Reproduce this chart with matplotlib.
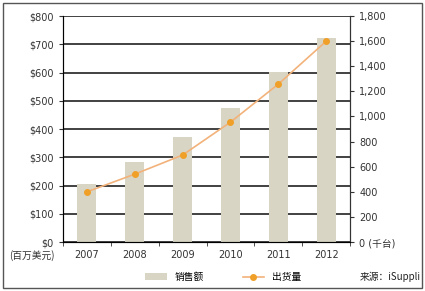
import numpy as np
import matplotlib.pyplot as plt
from matplotlib.patches import Rectangle
from matplotlib.ticker import FuncFormatter, MultipleLocator

plt.rcParams['font.family'] = ['DejaVu Sans', 'Noto Sans CJK SC']

years = ['2007', '2008', '2009', '2010', '2011', '2012']
sales = [205, 283, 372, 474, 602, 722]          # 百万美元
shipments = [400, 541, 693, 955, 1258, 1600]    # 千台

fig = plt.figure(figsize=(4.25, 2.91), dpi=100)
ax = fig.add_axes([0.148, 0.168, 0.676, 0.777])
x = np.arange(len(years))

# 网格线
for v in range(0, 801, 100):
    ax.axhline(v, color='#333333', lw=1.3, zorder=1)

bars = ax.bar(x, sales, width=0.4, color='#d8d5c5', zorder=2, label='销售额')
ax.set_xlim(-0.5, 5.5)
ax.set_ylim(0, 800)
ax.yaxis.set_major_locator(MultipleLocator(100))
ax.yaxis.set_major_formatter(FuncFormatter(lambda v, p: '$%d' % v))
ax.set_xticks(x)
ax.set_xticklabels(years)
ax.set_xticks(np.arange(-0.5, 6, 1), minor=True)
ax.tick_params(axis='x', which='major', length=0, labelsize=7, pad=6, colors='#333333')
ax.tick_params(axis='x', which='minor', length=3, direction='out', color='#333333')
ax.tick_params(axis='y', length=3, labelsize=7, colors='#333333')
ax.spines['top'].set_visible(False)
for s in ['left', 'right', 'bottom']:
    ax.spines[s].set_color('#333333')

ax2 = ax.twinx()
ax2.set_position(ax.get_position())
line, = ax2.plot(x, shipments, color='#f2b27a', lw=1.2, marker='o', ms=4,
                 mfc='#f0a028', mec='#f0a028', zorder=3, label='出货量')
ax2.set_ylim(0, 1800)
ax2.yaxis.set_major_locator(MultipleLocator(200))
ax2.yaxis.set_major_formatter(FuncFormatter(lambda v, p: '0 (千台)' if v == 0 else '{:,.0f}'.format(v)))
ax2.tick_params(axis='y', length=3, labelsize=7, colors='#333333')
ax2.spines['top'].set_visible(False)
ax2.spines['right'].set_color('#333333')

fig.text(0.075, 0.122, '(百万美元)', fontsize=7, ha='center', va='center',
         family=['Noto Sans CJK SC'], color='#333333')

fig.legend(handles=[bars, line], loc='center', bbox_to_anchor=(0.525, 0.048), ncol=2,
           frameon=False, handlelength=2.2, columnspacing=4,
           prop={'family': ['Noto Sans CJK SC'], 'size': 7})
fig.text(0.99, 0.048, '来源：iSuppli', fontsize=7, ha='right', va='center',
         family=['Noto Sans CJK SC'], color='#222222')

fig.patches.append(Rectangle((0.007, 0.01), 0.985, 0.98, transform=fig.transFigure,
                             fill=False, ec='#555555', lw=1))

fig.savefig('out.png', dpi=100)
